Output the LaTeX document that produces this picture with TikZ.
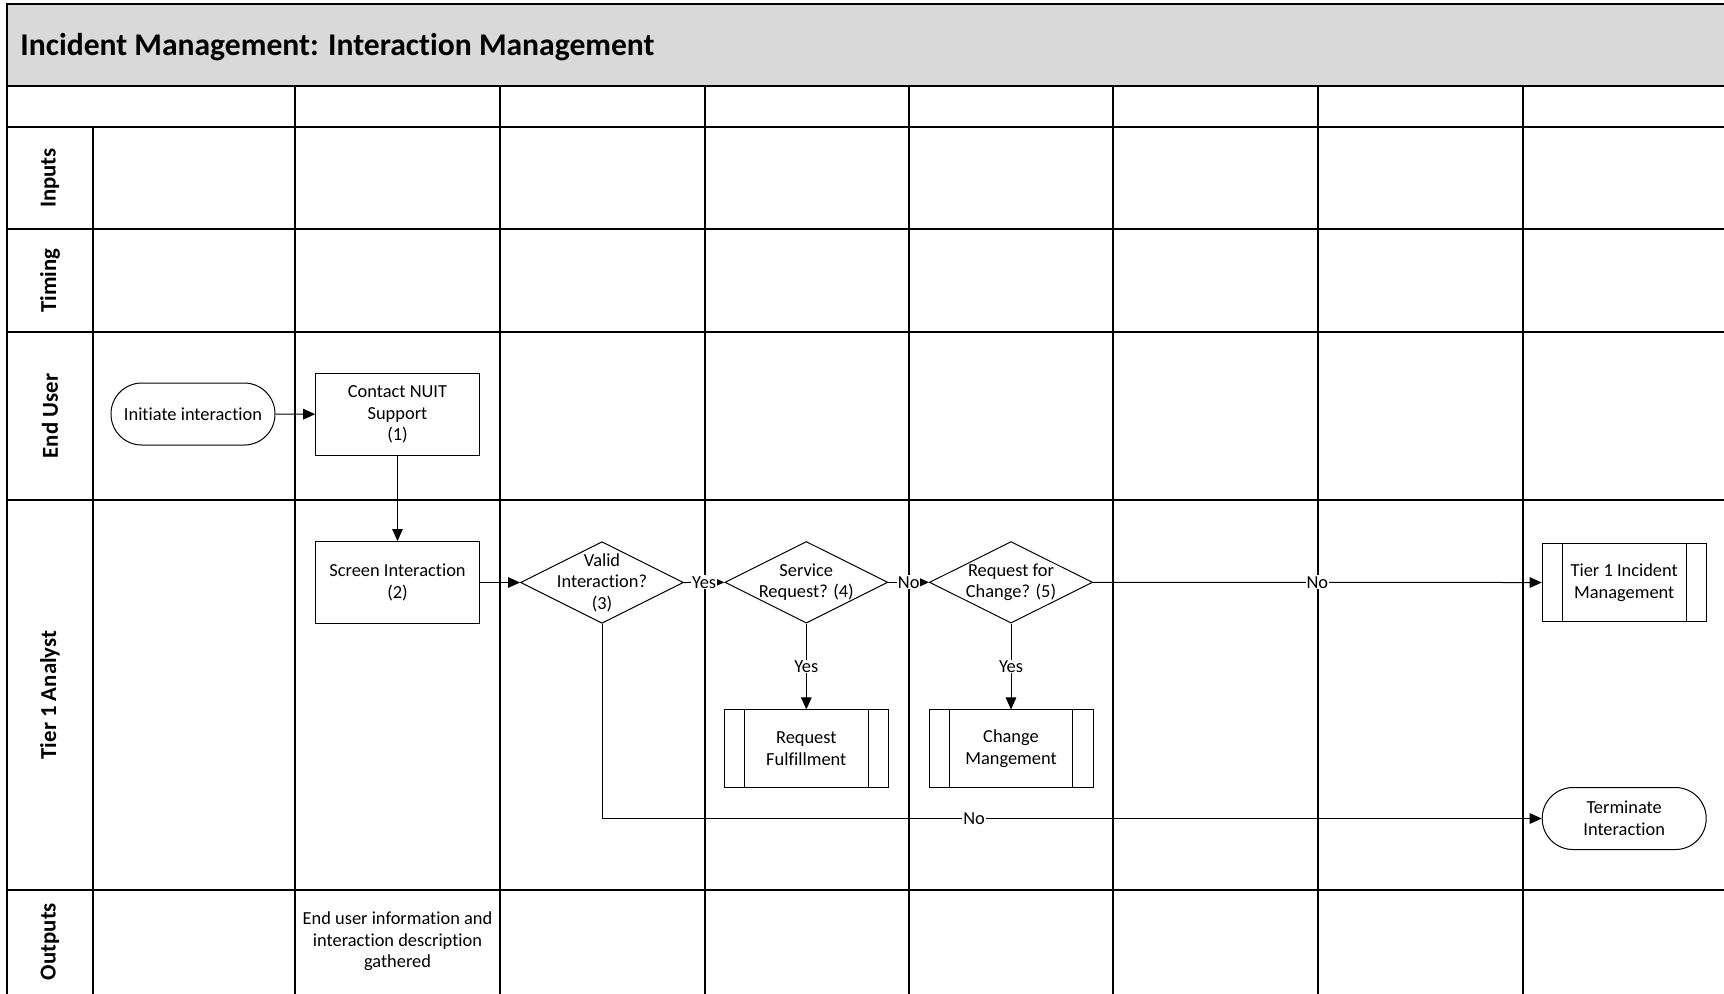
\documentclass[tikz,border=0pt]{standalone}
\usepackage{fontspec}
\setmainfont{Carlito}[Ligatures=NoCommon]
\usetikzlibrary{shapes.geometric,arrows.meta}
\begin{document}
\begin{tikzpicture}[x=0.5pt,y=-0.5pt,
  grid/.style={line width=1pt, line cap=rect},
  txt/.style={font=\fontsize{9.2}{10.8}\selectfont, align=center},
  proc/.style={draw, line width=0.5pt, txt, minimum width=81.8pt, minimum height=41pt, inner sep=1pt},
  term/.style={draw, line width=0.5pt, txt, rounded corners=15.4pt, minimum width=82pt, minimum height=31pt, inner sep=1pt},
  dec/.style={draw, diamond, line width=0.5pt, minimum width=81.5pt, minimum height=40.8pt, inner sep=0pt},
  sub/.style={draw, line width=0.5pt, txt, minimum width=82pt, minimum height=38.9pt, inner sep=1pt},
  lane/.style={rotate=90, font=\fontsize{11.4}{13}\selectfont\bfseries, inner sep=0pt},
  conn/.style={line width=0.5pt, -{Triangle[length=6pt,width=5.3pt]}},
  lbl/.style={fill=white, inner sep=0.5pt, font=\fontsize{9.2}{10.8}\selectfont},
]
\useasboundingbox (0,0) rectangle (1724,993);
% title band
\fill[fill={rgb,255:red,217;green,217;blue,217}] (7,4) rectangle (1724,86);
\node[anchor=west, inner sep=0pt, font=\fontsize{15.8}{18}\selectfont\bfseries] (title) at (20,47.5) {Incident Management: Interaction Management};
% grid
\draw[grid] (1724,4) -- (7,4) -- (7,993);
\foreach \y in {86,126.7,229.3,331.7,500,890} \draw[grid] (7,\y) -- (1724,\y);
\draw[grid] (92.7,126.7) -- (92.7,993);
\foreach \x in {295.3,500,704.6,909.1,1113.3,1317.8,1522.5} \draw[grid] (\x,86) -- (\x,993);
% lane labels
\node[lane] (lin) at (50,178) {Inputs};
\node[lane] (ltm) at (50,280.5) {Timing};
\node[lane] (leu) at (50,416) {End User};
\node[lane] (lta) at (50,695) {Tier 1 Analyst};
\node[lane] (lou) at (50,941.5) {Outputs};
% nodes
\node[term] (ii) at (193,414) {Initiate interaction};
\node[proc] (c1) at (397.5,414.3) {Contact NUIT\\Support\\(1)};
\node[proc] (s2) at (397.5,582.5) {Screen Interaction\\(2)};
\node[dec] (d3) at (602,582.5) {};
\node[txt] (d3t) at (602,582.5) {Valid\\Interaction?\\(3)};
\node[dec] (d4) at (806.3,582.3) {};
\node[txt] (d4t) at (806.3,582.3) {Service\\Request? (4)};
\node[dec] (d5) at (1011,582.3) {};
\node[txt] (d5t) at (1011,582.3) {Request for\\Change? (5)};
\node[sub] (rf) at (806.3,748.8) {Request\\Fulfillment};
\node[sub] (cm) at (1011,748.8) {Change\\Mangement};
\node[sub] (t1) at (1624.2,582.5) {Tier 1 Incident\\Management};
\node[term] (ti) at (1624.2,818.5) {Terminate\\Interaction};
\foreach \n in {rf,cm,t1}{
  \draw[line width=0.5pt] ([xshift=10.35pt]\n.north west) -- ([xshift=10.35pt]\n.south west);
  \draw[line width=0.5pt] ([xshift=-10.35pt]\n.north east) -- ([xshift=-10.35pt]\n.south east);
}
\node[txt] (out) at (397.5,941.5) {End user information and\\interaction description\\gathered};
% connectors
\draw[conn] (ii) -- (c1);
\draw[conn] (c1) -- (s2);
\draw[conn] (s2) -- (d3);
\draw[conn] (d3.east) -- node[lbl] {Yes} (d4.west);
\draw[conn] (d4.east) -- node[lbl] {No} (d5.west);
\draw[conn] (d5.east) -- node[lbl] {No} (t1.west);
\draw[conn] (d4.south) -- node[lbl] {Yes} (rf.north);
\draw[conn] (d5.south) -- node[lbl] {Yes} (cm.north);
\draw[conn] (d3.south) |- node[lbl, pos=0.698] {No} (ti.west);
\end{tikzpicture}
\end{document}
